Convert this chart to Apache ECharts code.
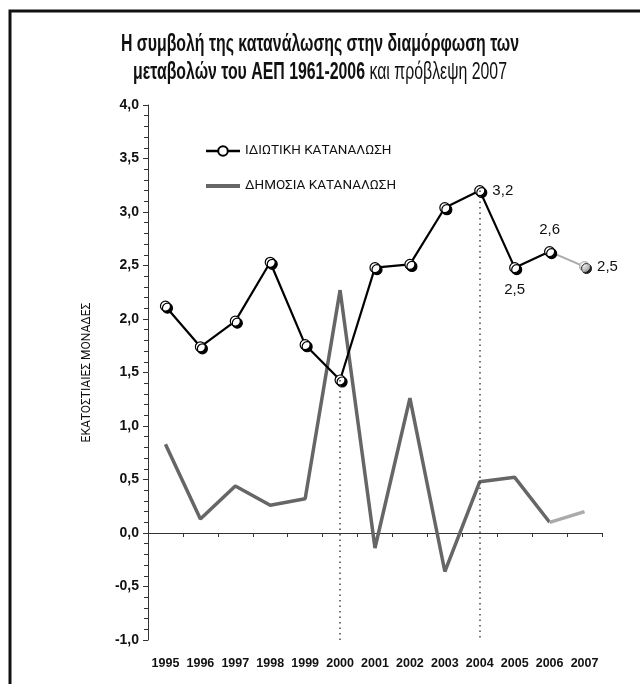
<!DOCTYPE html>
<html>
<head>
<meta charset="utf-8">
<script src="https://cdn.jsdelivr.net/npm/echarts@6/dist/echarts.min.js"></script>
<style>
  html, body { margin: 0; padding: 0; background: #fff; }
  #chart { width: 640px; height: 684px; }
</style>
</head>
<body>
<div id="chart"></div>
<script>
const years = ['1995', '1996', '1997', '1998', '1999', '2000', '2001', '2002', '2003', '2004', '2005', '2006', '2007'];
const privateVals = [2.12, 1.74, 1.98, 2.53, 1.76, 1.43, 2.48, 2.51, 3.04, 3.2, 2.48, 2.63, 2.49];
const publicVals = [0.83, 0.13, 0.44, 0.26, 0.32, 2.27, -0.14, 1.26, -0.36, 0.48, 0.52, 0.1, 0.2];
const yTicks = [-1, -0.5, 0, 0.5, 1, 1.5, 2, 2.5, 3, 3.5, 4];
const markedYears = ['2000', '2004'];
const labelledYears = { '2004': 'right', '2005': 'bottom', '2006': 'top', '2007': 'right' };
const titleLine1 = 'Η συμβολή της κατανάλωσης στην διαμόρφωση των';
const titleBold2 = 'μεταβολών του ΑΕΠ 1961-2006';
const titleNormal2 = ' και πρόβλεψη 2007';

const sans = "'Liberation Sans', Arial, sans-serif";
const last = years.length - 1;
const fmt = v => v.toFixed(1).replace('.', ',');

// no condensed font is installed, so the title is squeezed horizontally
const ctx = document.createElement('canvas').getContext('2d');
ctx.font = 'bold 24px ' + sans;
const titleScale = 398 / ctx.measureText(titleLine1).width;

const ballStyle = {
  color: {
    type: 'radial', x: 0.4, y: 0.35, r: 0.7,
    colorStops: [{ offset: 0, color: '#fff' }, { offset: 0.7, color: '#fff' }, { offset: 1, color: '#ccc' }],
  },
  borderColor: '#000',
  borderWidth: 1.2,
  shadowColor: '#000',
  shadowOffsetX: 2,
  shadowOffsetY: 2,
  shadowBlur: 0,
};

function pointLabel(year, value) {
  const pos = labelledYears[year];
  if (!pos) return undefined;
  return {
    show: true,
    position: pos,
    distance: pos === 'right' ? 7 : 9,
    formatter: fmt(value),
    color: '#111',
    fontFamily: sans,
    fontSize: 15,
  };
}

// main series stop at 2006, forecast series only join 2006 and 2007
const privateMain = privateVals.map((v, i) => (i === last ? '-' : { value: v, label: pointLabel(years[i], v) }));
const publicMain = publicVals.map((v, i) => (i === last ? '-' : v));
const privateFc = privateVals.map((v, i) => {
  if (i < last - 1) return '-';
  if (i === last - 1) return { value: v, symbol: 'none' };
  return {
    value: v,
    label: pointLabel(years[i], v),
    itemStyle: {
      color: {
        type: 'radial', x: 0.35, y: 0.3, r: 0.8,
        colorStops: [{ offset: 0, color: '#fff' }, { offset: 1, color: '#999' }],
      },
      borderColor: '#aaa',
      borderWidth: 1,
      shadowColor: '#222',
      shadowOffsetX: 2,
      shadowOffsetY: 2,
      shadowBlur: 0,
    },
  };
});
const publicFc = publicVals.map((v, i) => (i < last - 1 ? '-' : v));

const dropLines = markedYears.map(y => {
  const i = years.indexOf(y);
  return [{ coord: [y, privateVals[i]] }, { coord: [y, yTicks[0]] }];
});

const chart = echarts.init(document.getElementById('chart'));
chart.setOption({
  animation: false,
  backgroundColor: '#fff',
  graphic: [
    {
      type: 'rect',
      shape: { x: 10, y: 11, width: 700, height: 760 },
      style: { fill: 'none', stroke: '#111', lineWidth: 3 },
      silent: true,
    },
    {
      type: 'text',
      x: 320,
      y: 44,
      scaleX: titleScale,
      style: {
        text: titleLine1,
        font: 'bold 24px ' + sans,
        fill: '#111',
        align: 'center',
        verticalAlign: 'middle',
      },
    },
    {
      type: 'text',
      x: 320,
      y: 72,
      scaleX: titleScale,
      style: {
        text: '{b|' + titleBold2 + '}{n|' + titleNormal2 + '}',
        fill: '#111',
        align: 'center',
        verticalAlign: 'middle',
        rich: {
          b: { font: 'bold 24px ' + sans, fill: '#111' },
          n: { font: 'normal 24px ' + sans, fill: '#111' },
        },
      },
    },
  ],
  legend: {
    orient: 'vertical',
    left: 204,
    top: 144,
    padding: 0,
    itemWidth: 34,
    itemHeight: 12,
    itemGap: 21,
    data: [
      { name: 'ΙΔΙΩΤΙΚΗ ΚΑΤΑΝΑΛΩΣΗ', lineStyle: { width: 2.5 } },
      { name: 'ΔΗΜΟΣΙΑ ΚΑΤΑΝΑΛΩΣΗ', itemStyle: { opacity: 0 }, lineStyle: { width: 4 } },
    ],
    textStyle: { fontFamily: 'Roboto, sans-serif', fontSize: 13.5, color: '#111' },
  },
  grid: { left: 148, right: 38, top: 105, bottom: 44, outerBoundsMode: 'none' },
  xAxis: [
    {
      type: 'category',
      data: years,
      axisLine: { onZero: true, lineStyle: { color: '#333', width: 1 } },
      axisTick: { show: true, interval: 0, length: 4, lineStyle: { color: '#333' } },
      axisLabel: { show: false },
      splitLine: { show: false },
    },
    {
      // year labels sit under the plot, not under the zero line
      type: 'category',
      data: years,
      position: 'bottom',
      axisLine: { show: false, onZero: false },
      axisTick: { show: false },
      axisLabel: {
        interval: 0,
        margin: 17,
        fontFamily: sans,
        fontWeight: 'bold',
        fontSize: 12.5,
        color: '#111',
      },
      splitLine: { show: false },
    },
  ],
  yAxis: {
    type: 'value',
    min: yTicks[0],
    max: yTicks[yTicks.length - 1],
    interval: 0.5,
    name: 'ΕΚΑΤΟΣΤΙΑΙΕΣ ΜΟΝΑΔΕΣ',
    nameLocation: 'middle',
    nameGap: 55,
    nameTextStyle: { fontFamily: 'Roboto, sans-serif', fontSize: 12, color: '#111' },
    axisLine: { show: true, lineStyle: { color: '#333', width: 1 } },
    axisTick: { show: true, length: 5, lineStyle: { color: '#333' } },
    minorTick: { show: true, splitNumber: 5, length: 4, lineStyle: { color: '#333' } },
    axisLabel: {
      margin: 9,
      formatter: fmt,
      fontFamily: sans,
      fontWeight: 'bold',
      fontSize: 14,
      color: '#111',
    },
    splitLine: { show: false },
  },
  series: [
    {
      name: 'ΔΗΜΟΣΙΑ ΚΑΤΑΝΑΛΩΣΗ',
      type: 'line',
      data: publicMain,
      symbol: 'none',
      itemStyle: { color: '#666' },
      lineStyle: { color: '#666', width: 3.5 },
      z: 2,
    },
    {
      name: 'public-forecast',
      type: 'line',
      data: publicFc,
      symbol: 'none',
      lineStyle: { color: '#aaa', width: 3.5 },
      z: 2,
    },
    {
      name: 'private-forecast',
      type: 'line',
      data: privateFc,
      symbol: 'circle',
      symbolSize: 10,
      lineStyle: { color: '#aaa', width: 2 },
      z: 3,
    },
    {
      name: 'ΙΔΙΩΤΙΚΗ ΚΑΤΑΝΑΛΩΣΗ',
      type: 'line',
      data: privateMain,
      symbol: 'circle',
      symbolSize: 10,
      itemStyle: ballStyle,
      lineStyle: { color: '#000', width: 2.2 },
      z: 4,
      markLine: {
        silent: true,
        symbol: 'none',
        label: { show: false },
        lineStyle: { color: '#444', width: 1.5, type: [1.5, 4] },
        data: dropLines,
      },
    },
  ],
});
</script>
</body>
</html>
